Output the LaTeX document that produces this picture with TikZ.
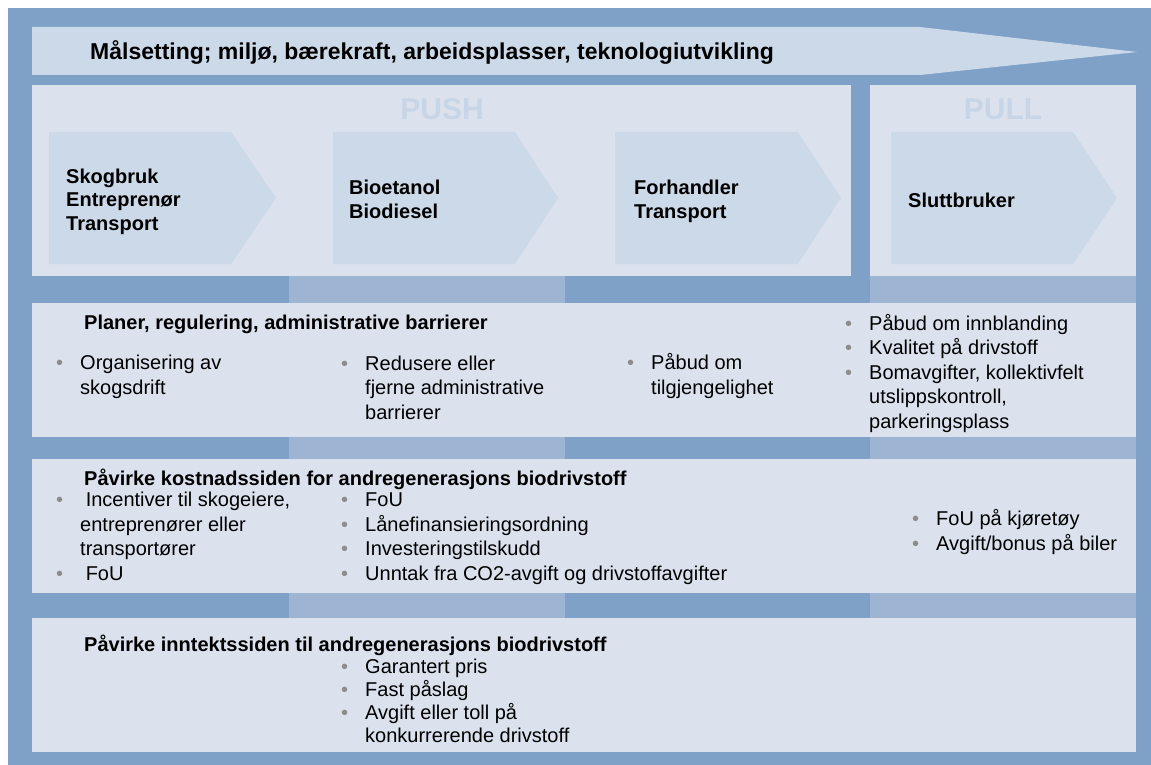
\documentclass[tikz,border=0pt]{standalone}
\usepackage{fontspec}
\setmainfont{Liberation Sans}
\usetikzlibrary{positioning}

\definecolor{frameblue}{RGB}{127,161,199}
\definecolor{panelgray}{RGB}{219,226,238}
\definecolor{chevblue}{RGB}{204,217,232}
\definecolor{bandblue}{RGB}{158,180,211}
\definecolor{pushtext}{RGB}{200,213,230}
\definecolor{bulgray}{RGB}{140,140,140}

\newcommand\itm{\llap{\textcolor{bulgray}{\textbullet}\hspace{17pt}}}

\begin{document}
\begin{tikzpicture}[x=1pt, y=-1pt,
panel/.style={fill=panelgray},
band/.style={fill=bandblue},
chev/.style={fill=chevblue},
head/.style={anchor=base west, inner sep=0pt, font=\bfseries\fontsize{20}{24}\selectfont},
item/.style={anchor=base west, inner sep=0pt, align=left, font=\fontsize{20}{24.4}\selectfont},
actor/.style={anchor=base west, inner sep=0pt, align=left, font=\bfseries\fontsize{20}{23.5}\selectfont},
side/.style={anchor=base, inner sep=0pt, text=pushtext, font=\bfseries\fontsize{30}{36}\selectfont} ]

\useasboundingbox (0,0) rectangle (1151,765);
\fill[frameblue] (8,8) rectangle (1151,765);

% goal banner
\fill[chev] (32,27) -- (920,27) -- (1137,52) -- (920,75) -- (32,75) -- cycle;
\node[head, font=\bfseries\fontsize{23}{28}\selectfont] (goal) at (90,60) {Målsetting; miljø, bærekraft, arbeidsplasser, teknologiutvikling};

% push and pull panels
\fill[panel] (32,85) rectangle (851,276);
\fill[panel] (870,85) rectangle (1136,276);
\node[side] (push) at (442,120) {PUSH};
\node[side] (pull) at (1003,120) {PULL};

% value chain (nodes sit on the baseline of their last line)
\foreach \a/\b/\c in {49/231/276, 333/515/558, 615/798/841, 891/1073/1117}
  \fill[chev] (\a,132) -- (\b,132) -- (\c,198) -- (\b,264) -- (\a,264) -- cycle;

\node[actor] (skog) at (66,230) {Skogbruk\\Entreprenør\\Transport};
\node[actor] (bio) at (349,218) {Bioetanol\\Biodiesel};
\node[actor] (forh) at (634,218) {Forhandler\\Transport};
\node[actor] (slutt) at (908,207) {Sluttbruker};

% bands between the rows
\foreach \y/\z in {276/303, 437/459, 593/618} {
  \fill[band] (289,\y) rectangle (565,\z);
  \fill[band] (870,\y) rectangle (1136,\z);
}
\foreach \y/\z in {303/437, 459/593, 618/752}
  \fill[panel] (32,\y) rectangle (1136,\z);

% row 1
\node[head] (plan) at (84,329) {Planer, regulering, administrative barrierer};
\node[item] (plan1) at (80,394) {\itm Organisering av\\skogsdrift};
\node[item] (plan2) at (365,419) {\itm Redusere eller\\fjerne administrative\\barrierer};
\node[item] (plan3) at (651,394) {\itm Påbud om\\tilgjengelighet};
\node[item] (plan4) at (869,428) {\itm Påbud om innblanding\\\itm Kvalitet på drivstoff\\\itm Bomavgifter, kollektivfelt\\utslippskontroll,\\parkeringsplass};

% row 2
\node[head] (kost) at (84,485) {Påvirke kostnadssiden for andregenerasjons biodrivstoff};
\node[item] (kost1) at (80,580) {\itm\ Incentiver til skogeiere,\\entreprenører eller\\transportører\\\itm\ FoU};
\node[item] (kost2) at (365,580) {\itm FoU\\\itm Lånefinansieringsordning\\\itm Investeringstilskudd\\\itm Unntak fra CO2-avgift og drivstoffavgifter};
\node[item] (kost3) at (936,550) {\itm FoU på kjøretøy\\\itm Avgift/bonus på biler};

% row 3
\node[head] (innt) at (84,651) {Påvirke inntektssiden til andregenerasjons biodrivstoff};
\node[item, font=\fontsize{20}{23}\selectfont] (innt1) at (365,742) {\itm Garantert pris\\\itm Fast påslag\\\itm Avgift eller toll på\\konkurrerende drivstoff};

\end{tikzpicture}
\end{document}
